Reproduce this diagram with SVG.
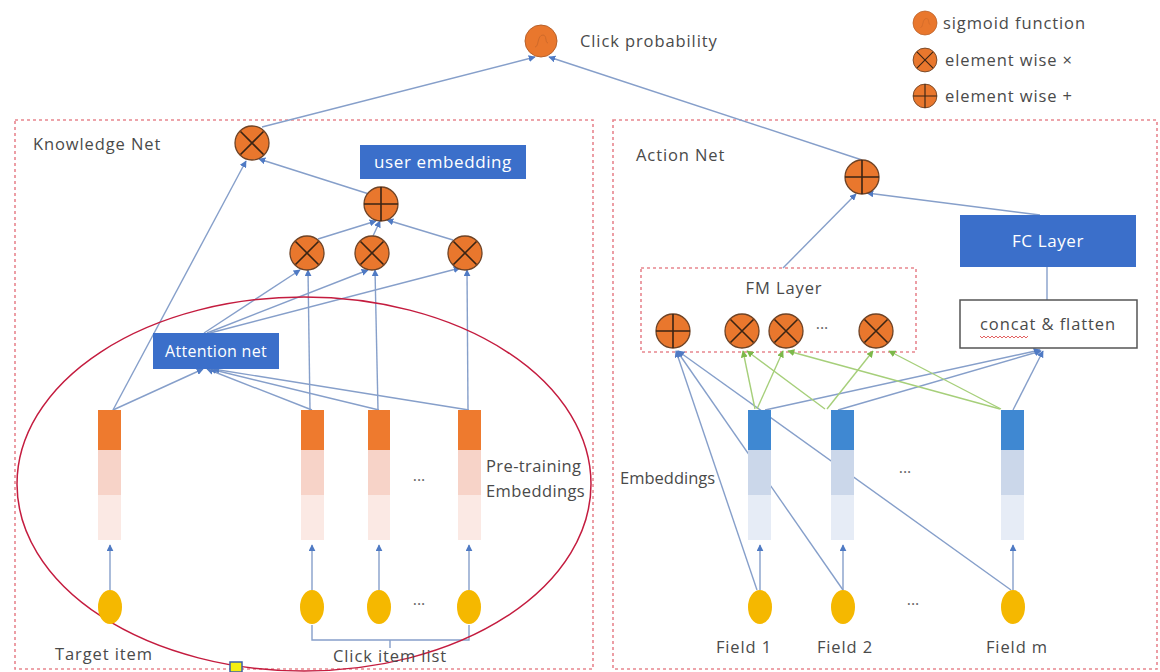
<svg xmlns="http://www.w3.org/2000/svg" xmlns:xlink="http://www.w3.org/1999/xlink" width="1160" height="672" viewBox="0 0 1160 672">
  <style>
    .txt { font-family: "Open Sans", "Noto Sans", "Liberation Sans", sans-serif; font-size: 16.5px; letter-spacing: 0.9px; fill: #4a4a4a; }
    .wtxt { font-family: "Open Sans", "Noto Sans", "Liberation Sans", sans-serif; font-size: 17px; letter-spacing: 0.6px; fill: #ffffff; text-anchor: middle; }
    .panel { fill: none; stroke: #e8868f; stroke-width: 1.6; stroke-dasharray: 3 3; }
    .bluebox { fill: #3b6fca; }
    .wire { fill: none; stroke: #869fca; stroke-width: 1.4; marker-end: url(#arr); }
    .wire-plain { fill: none; stroke: #869fca; stroke-width: 1.4; }
    .gwire { fill: none; stroke: #a6cf7a; stroke-width: 1.4; marker-end: url(#garr); }
    .seed { fill: #f5b800; }
    .dots { font-family: "Open Sans", "Liberation Sans", sans-serif; font-size: 16px; fill: #666; text-anchor: middle; }
  </style>
  <defs>
    <marker id="arr" viewBox="0 0 10 10" refX="9" refY="5" markerWidth="7" markerHeight="7" markerUnits="userSpaceOnUse" orient="auto">
      <path d="M0,0 L10,5 L0,10 z" fill="#4f7ac4"/>
    </marker>
    <marker id="garr" viewBox="0 0 10 10" refX="9" refY="5" markerWidth="7" markerHeight="7" markerUnits="userSpaceOnUse" orient="auto">
      <path d="M0,0 L10,5 L0,10 z" fill="#7cb84a"/>
    </marker>
    <!-- operator glyphs, drawn around the origin -->
    <g id="op-mul">
      <circle r="17" fill="#e9772d" stroke="#6e4326" stroke-width="1.3"/>
      <path d="M-11.5,-11.5 L11.5,11.5 M11.5,-11.5 L-11.5,11.5" stroke="#3a2414" stroke-width="1.6"/>
    </g>
    <g id="op-add">
      <circle r="17" fill="#e9772d" stroke="#6e4326" stroke-width="1.3"/>
      <path d="M-17,0 L17,0 M0,-17 L0,17" stroke="#3a2414" stroke-width="1.6"/>
    </g>
    <g id="op-sig">
      <circle r="16" fill="#e9772d" stroke="#b8612b" stroke-width="1"/>
      <path d="M-6,6 C-2,6 -4,-6 2,-6 C6,-6 4,2 7,2" fill="none" stroke="#cf6a2a" stroke-width="1"/>
    </g>
  </defs>

  <rect width="1160" height="672" fill="#ffffff"/>

  <!-- panels -->
  <g id="knowledge-net-panel">
    <rect class="panel" x="15" y="120" width="578" height="549"/>
    <text class="txt" x="33" y="150">Knowledge Net</text>
  </g>
  <g id="action-net-panel">
    <rect class="panel" x="613" y="120" width="544" height="549"/>
    <text class="txt" x="636" y="161">Action Net</text>
  </g>
  <g id="fm-layer-panel">
    <rect class="panel" x="641" y="268" width="275" height="84"/>
    <text class="txt" x="784" y="294" text-anchor="middle">FM Layer</text>
  </g>

  <!-- connectors -->
  <g id="connectors">
    <!-- to click probability -->
    <line class="wire" x1="262" y1="127" x2="535" y2="57"/>
    <line class="wire" x1="862" y1="160" x2="549" y2="57"/>
    <!-- knowledge net -->
    <line class="wire" x1="113" y1="410" x2="246" y2="161"/>
    <line class="wire" x1="369" y1="194" x2="259" y2="159"/>
    <line class="wire" x1="318" y1="239" x2="376" y2="221"/>
    <line class="wire" x1="373" y1="236" x2="380" y2="221"/>
    <line class="wire" x1="453" y1="240" x2="387" y2="220"/>
    <line class="wire" x1="204" y1="333" x2="300" y2="270"/>
    <line class="wire" x1="207" y1="333" x2="368" y2="270"/>
    <line class="wire" x1="210" y1="333" x2="460" y2="268"/>
    <line class="wire" x1="310" y1="410" x2="308" y2="270"/>
    <line class="wire" x1="378" y1="410" x2="375" y2="270"/>
    <line class="wire" x1="468" y1="410" x2="467" y2="270"/>
    <line class="wire" x1="113" y1="410" x2="203" y2="369"/>
    <line class="wire" x1="312" y1="410" x2="207" y2="369"/>
    <line class="wire" x1="379" y1="410" x2="210" y2="369"/>
    <line class="wire" x1="469" y1="410" x2="213" y2="369"/>
    <line class="wire" x1="110" y1="590" x2="110" y2="545"/>
    <line class="wire" x1="312" y1="590" x2="312" y2="545"/>
    <line class="wire" x1="379" y1="590" x2="379" y2="545"/>
    <line class="wire" x1="469" y1="590" x2="469" y2="545"/>
    <!-- click item list bracket -->
    <path class="wire-plain" d="M312,625 V640 H469 V625 M390,640 V648"/>
    <!-- action net -->
    <line class="wire" x1="783" y1="268" x2="856" y2="194"/>
    <line class="wire" x1="1040" y1="215" x2="867" y2="193"/>
    <line class="wire-plain" x1="1047" y1="267" x2="1047" y2="300"/>
    <line class="wire" x1="757" y1="590" x2="676" y2="351"/>
    <line class="wire" x1="843" y1="590" x2="677" y2="351"/>
    <line class="wire" x1="1011" y1="590" x2="678" y2="351"/>
    <line class="wire" x1="765" y1="410" x2="1040" y2="350"/>
    <line class="wire" x1="838" y1="410" x2="1041" y2="351"/>
    <line class="wire" x1="1013" y1="410" x2="1043" y2="351"/>
    <line class="gwire" x1="755" y1="409" x2="743" y2="351"/>
    <line class="gwire" x1="825" y1="409" x2="747" y2="351"/>
    <line class="gwire" x1="757" y1="409" x2="783" y2="351"/>
    <line class="gwire" x1="1000" y1="409" x2="788" y2="351"/>
    <line class="gwire" x1="827" y1="409" x2="873" y2="351"/>
    <line class="gwire" x1="1001" y1="409" x2="889" y2="351"/>
    <line class="wire" x1="760" y1="590" x2="760" y2="545"/>
    <line class="wire" x1="843" y1="590" x2="843" y2="545"/>
    <line class="wire" x1="1013" y1="590" x2="1013" y2="545"/>
  </g>

  <!-- attention scope -->
  <ellipse id="attention-scope" cx="304" cy="484" rx="287" ry="187" fill="none" stroke="#c41c3f" stroke-width="1.5"/>
  <rect id="scope-handle" x="230" y="662" width="12" height="10" fill="#f3ee10" stroke="#3a5fa8" stroke-width="1.5"/>

  <!-- output -->
  <g id="click-probability">
    <use xlink:href="#op-sig" x="541" y="41"/>
    <text class="txt" x="580" y="47">Click probability</text>
  </g>

  <!-- legend -->
  <g id="legend">
    <use xlink:href="#op-sig" transform="translate(925,23) scale(0.75)"/>
    <text class="txt" x="943" y="29">sigmoid function</text>
    <use xlink:href="#op-mul" transform="translate(925,60) scale(0.7)"/>
    <text class="txt" x="945" y="66">element wise ×</text>
    <use xlink:href="#op-add" transform="translate(925,96) scale(0.7)"/>
    <text class="txt" x="945" y="102">element wise +</text>
  </g>

  <!-- knowledge net nodes -->
  <g id="kn-mul-out"><use xlink:href="#op-mul" x="252" y="143"/></g>
  <g id="user-embedding">
    <rect class="bluebox" x="360" y="145" width="166" height="34"/>
    <text class="wtxt" x="443" y="168">user embedding</text>
  </g>
  <g id="kn-add"><use xlink:href="#op-add" x="381" y="204"/></g>
  <g id="kn-mul-1"><use xlink:href="#op-mul" x="307" y="253"/></g>
  <g id="kn-mul-2"><use xlink:href="#op-mul" x="372" y="253"/></g>
  <g id="kn-mul-3"><use xlink:href="#op-mul" x="465" y="253"/></g>
  <g id="attention-net">
    <rect class="bluebox" x="153" y="333" width="126" height="36"/>
    <text class="wtxt" x="216" y="357" style="font-size:16px;letter-spacing:0.3px">Attention net</text>
  </g>

  <g id="pretrained-embeddings">
    <g id="emb-target">
      <rect x="98" y="410" width="23" height="40" fill="#ee7a2e"/>
      <rect x="98" y="450" width="23" height="45" fill="#f7d3c8"/>
      <rect x="98" y="495" width="23" height="45" fill="#fbe9e4"/>
    </g>
    <g id="emb-click-1">
      <rect x="301" y="410" width="23" height="40" fill="#ee7a2e"/>
      <rect x="301" y="450" width="23" height="45" fill="#f7d3c8"/>
      <rect x="301" y="495" width="23" height="45" fill="#fbe9e4"/>
    </g>
    <g id="emb-click-2">
      <rect x="368" y="410" width="22" height="40" fill="#ee7a2e"/>
      <rect x="368" y="450" width="22" height="45" fill="#f7d3c8"/>
      <rect x="368" y="495" width="22" height="45" fill="#fbe9e4"/>
    </g>
    <g id="emb-click-n">
      <rect x="458" y="410" width="23" height="40" fill="#ee7a2e"/>
      <rect x="458" y="450" width="23" height="45" fill="#f7d3c8"/>
      <rect x="458" y="495" width="23" height="45" fill="#fbe9e4"/>
    </g>
    <text class="dots" x="419" y="486">···</text>
    <text class="txt" x="486" y="472" style="letter-spacing:0.4px">Pre-training</text>
    <text class="txt" x="486" y="497" style="letter-spacing:0.4px">Embeddings</text>
  </g>

  <g id="kn-items">
    <ellipse class="seed" cx="110" cy="607" rx="12" ry="17"/>
    <ellipse class="seed" cx="312" cy="607" rx="12" ry="17"/>
    <ellipse class="seed" cx="379" cy="607" rx="12" ry="17"/>
    <ellipse class="seed" cx="469" cy="607" rx="12" ry="17"/>
    <text class="dots" x="419" y="610">···</text>
    <text class="txt" x="55" y="660">Target item</text>
    <text class="txt" x="333" y="662">Click item list</text>
  </g>

  <!-- action net nodes -->
  <g id="an-add"><use xlink:href="#op-add" x="862" y="177"/></g>
  <g id="fc-layer">
    <rect class="bluebox" x="960" y="215" width="176" height="52"/>
    <text class="wtxt" x="1048" y="247">FC Layer</text>
  </g>
  <g id="concat-flatten">
    <rect x="960" y="300" width="177" height="48" fill="#ffffff" stroke="#555555" stroke-width="1.5"/>
    <text class="txt" x="1048" y="330" text-anchor="middle">concat &amp; flatten</text>
    <path d="M980,336 l2,2 l2,-2 l2,2 l2,-2 l2,2 l2,-2 l2,2 l2,-2 l2,2 l2,-2 l2,2 l2,-2 l2,2 l2,-2 l2,2 l2,-2 l2,2 l2,-2 l2,2 l2,-2 l2,2 l2,-2 l2,2 l2,-2" fill="none" stroke="#e05050" stroke-width="0.9"/>
  </g>
  <g id="fm-add"><use xlink:href="#op-add" x="673" y="331"/></g>
  <g id="fm-mul-1"><use xlink:href="#op-mul" x="742" y="331"/></g>
  <g id="fm-mul-2"><use xlink:href="#op-mul" x="786" y="331"/></g>
  <g id="fm-mul-n"><use xlink:href="#op-mul" x="876" y="331"/></g>
  <text class="dots" x="822" y="334">···</text>

  <g id="field-embeddings">
    <g id="emb-field-1">
      <rect x="748" y="410" width="23" height="40" fill="#3f88d2"/>
      <rect x="748" y="450" width="23" height="45" fill="#cbd7ea"/>
      <rect x="748" y="495" width="23" height="45" fill="#e6ecf6"/>
    </g>
    <g id="emb-field-2">
      <rect x="831" y="410" width="23" height="40" fill="#3f88d2"/>
      <rect x="831" y="450" width="23" height="45" fill="#cbd7ea"/>
      <rect x="831" y="495" width="23" height="45" fill="#e6ecf6"/>
    </g>
    <g id="emb-field-m">
      <rect x="1001" y="410" width="23" height="40" fill="#3f88d2"/>
      <rect x="1001" y="450" width="23" height="45" fill="#cbd7ea"/>
      <rect x="1001" y="495" width="23" height="45" fill="#e6ecf6"/>
    </g>
    <text class="dots" x="905" y="478">···</text>
    <text class="txt" x="620" y="484" style="letter-spacing:0px">Embeddings</text>
  </g>

  <g id="fields">
    <ellipse class="seed" cx="760" cy="607" rx="12" ry="17"/>
    <ellipse class="seed" cx="843" cy="607" rx="12" ry="17"/>
    <ellipse class="seed" cx="1013" cy="607" rx="12" ry="17"/>
    <text class="dots" x="913" y="610">···</text>
    <text class="txt" x="744" y="653" text-anchor="middle">Field 1</text>
    <text class="txt" x="845" y="653" text-anchor="middle">Field 2</text>
    <text class="txt" x="1017" y="653" text-anchor="middle">Field m</text>
  </g>
</svg>
